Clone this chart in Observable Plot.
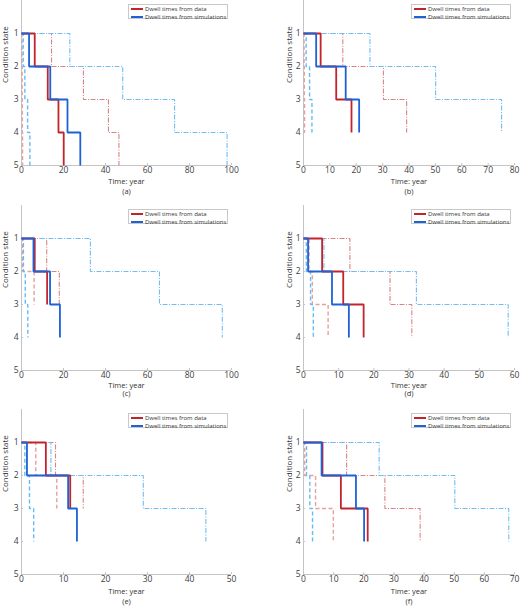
<!DOCTYPE html>
<html><head><meta charset="utf-8">
<script src="https://cdn.jsdelivr.net/npm/d3@7"></script>
<script src="https://cdn.jsdelivr.net/npm/@observablehq/plot@0.6"></script>
<style>
body{margin:0;background:#fff;font-family:"Open Sans",sans-serif;}
#fig{position:relative;width:520px;height:609px;overflow:hidden;}
.panel{position:absolute;}
.legend{position:absolute;background:#fff;border:1px solid #c8c8c8;width:100px;height:15px;font-size:6px;color:#333;box-sizing:border-box;}
.legend .row{position:absolute;left:0;height:8px;width:100%;}
.legend .sw{position:absolute;left:2px;width:12px;top:3px;height:0;border-top:2px solid;}
.legend .lb{position:absolute;left:16px;top:0;line-height:8px;white-space:nowrap;}
</style>
</head><body>
<div id="fig"></div>
<script>
// ---- data (cumulative years at which each transition to the next condition state occurs) ----
const panelLabels = ["(a)", "(b)", "(c)", "(d)", "(e)", "(f)"];
const xMax = [100, 80, 100, 60, 50, 70];
const xTicks = [
  [0, 20, 40, 60, 80, 100],
  [0, 10, 20, 30, 40, 50, 60, 70, 80],
  [0, 20, 40, 60, 80, 100],
  [0, 10, 20, 30, 40, 50, 60],
  [0, 10, 20, 30, 40, 50],
  [0, 10, 20, 30, 40, 50, 60, 70]
];
const stateTicks = [1, 2, 3, 4, 5];
const legendLabels = ["Dwell times from data", "Dwell times from simulations"];

// panel (a)
const a_dataMean = [6.3, 12.5, 17.6, 20.1];
const a_simMean  = [3.6, 13.7, 21.9, 28.0];
const a_dataLow  = [0.2, 0.3, 0.4, 0.5];
const a_dataHigh = [14.3, 29.5, 41.4, 46.4];
const a_simLow   = [0.8, 1.6, 2.9, 4.0];
const a_simHigh  = [23.0, 48.2, 72.9, 97.9];
// panel (b)
const b_dataMean = [6.5, 12.4, 18.2];
const b_simMean  = [4.8, 16.0, 21.1];
const b_dataLow  = [0.2, 0.3, 0.4];
const b_dataHigh = [14.9, 30.3, 39.1];
const b_simLow   = [1.0, 2.3, 3.2];
const b_simHigh  = [25.2, 50.1, 75.1];
// panel (c)
const c_dataMean = [6.3, 12.2];
const c_simMean  = [5.7, 13.6, 18.3];
const c_dataLow  = [0.5, 6.0];
const c_dataHigh = [12.0, 18.0];
const c_simLow   = [0.9, 1.8, 3.0];
const c_simHigh  = [32.8, 65.7, 95.6];
// panel (d)
const d_dataMean = [5.3, 11.3, 17.1];
const d_simMean  = [1.3, 8.1, 12.9];
const d_dataLow  = [1.6, 2.5, 7.0];
const d_dataHigh = [13.2, 24.6, 30.8];
const d_simLow   = [0.8, 2.0, 2.8];
const d_simHigh  = [5.8, 32.1, 58.2];
// panel (e)
const e_dataMean = [5.8, 11.6];
const e_simMean  = [1.3, 11.1, 13.2];
const e_dataLow  = [3.4, 8.4];
const e_dataHigh = [8.1, 14.7];
const e_simLow   = [0.8, 1.9, 2.9];
const e_simHigh  = [7.0, 29.0, 43.9];
// panel (f)
const f_dataMean = [6.3, 12.4, 21.3];
const f_simMean  = [6.0, 17.4, 20.1];
const f_dataLow  = [0.4, 4.0, 9.9];
const f_dataHigh = [14.3, 27.0, 38.7];
const f_simLow   = [1.0, 2.1, 3.0];
const f_simHigh  = [25.1, 50.2, 68.1];

const panelSeries = [
  {dataMean: a_dataMean, simMean: a_simMean, dataLow: a_dataLow, dataHigh: a_dataHigh, simLow: a_simLow, simHigh: a_simHigh},
  {dataMean: b_dataMean, simMean: b_simMean, dataLow: b_dataLow, dataHigh: b_dataHigh, simLow: b_simLow, simHigh: b_simHigh},
  {dataMean: c_dataMean, simMean: c_simMean, dataLow: c_dataLow, dataHigh: c_dataHigh, simLow: c_simLow, simHigh: c_simHigh},
  {dataMean: d_dataMean, simMean: d_simMean, dataLow: d_dataLow, dataHigh: d_dataHigh, simLow: d_simLow, simHigh: d_simHigh},
  {dataMean: e_dataMean, simMean: e_simMean, dataLow: e_dataLow, dataHigh: e_dataHigh, simLow: e_simLow, simHigh: e_simHigh},
  {dataMean: f_dataMean, simMean: f_simMean, dataLow: f_dataLow, dataHigh: f_dataHigh, simLow: f_simLow, simHigh: f_simHigh}
];

// ---- styles / layout ----
const seriesStyle = [
  {key: "dataLow",  stroke: "#e6a0a0", dash: "4,2.5", w: 1.4},
  {key: "dataHigh", stroke: "#d98585", dash: "5,1.5,1,1.5", w: 1.1},
  {key: "simLow",   stroke: "#66bbf5", dash: "4,2.5", w: 1.4},
  {key: "simHigh",  stroke: "#6fbdf2", dash: "5,1.5,1,1.5", w: 1.1},
  {key: "dataMean", stroke: "#c3242b", w: 1.8},
  {key: "simMean",  stroke: "#1f62d6", w: 1.8}
];
const RED = "#c3242b", BLUE = "#1f62d6";
const rows = [
  {top: 0,   h: 200, mt: 0, mb: 35, dyLab: 18.5, dyCap: 28},
  {top: 200, h: 200, mt: 5, mb: 30, dyLab: 17, dyCap: 25.5},
  {top: 400, h: 209, mt: 9, mb: 35, dyLab: 19, dyCap: 29}
];
const cols = [
  {left: 0,   ml: 21, mr: 29, dxY: -16},
  {left: 260, ml: 43, mr: 6,  dxY: -14.5}
];

const fig = document.getElementById("fig");

function stepPoints(times) {
  return [{x: 0, y: 1}, ...times.map((t, i) => ({x: t, y: i + 2}))];
}

panelSeries.forEach((ser, p) => {
  const r = rows[Math.floor(p / 2)], c = cols[p % 2];
  const W = 260;
  const marks = [
    Plot.ruleX([0], {y1: 0, y2: 5, stroke: "#c4c4c4", strokeWidth: 1}),
    Plot.ruleY([5], {x1: 0, x2: xMax[p], stroke: "#c4c4c4", strokeWidth: 1}),
    Plot.axisX({ticks: xTicks[p], tickSize: -2, tickPadding: 3, stroke: "#c4c4c4", label: null, fill: "#404040", fontSize: 8.5}),
    Plot.axisY({ticks: stateTicks, tickSize: -2, tickPadding: 5, stroke: "#c4c4c4", label: null, fill: "#404040", fontSize: 8.5, tickFormat: d => String(d)})
  ];
  for (const s of seriesStyle) {
    marks.push(Plot.line(stepPoints(ser[s.key]), {
      x: "x", y: "y", curve: "step-after",
      stroke: s.stroke, strokeWidth: s.w,
      strokeDasharray: s.dash || null,
      strokeLinejoin: "miter", strokeLinecap: "butt"
    }));
  }
  marks.push(Plot.text(["Time: year"], {frameAnchor: "bottom", dy: r.dyLab, fill: "#333", fontSize: 7.5}));
  marks.push(Plot.text([panelLabels[p]], {frameAnchor: "bottom", dy: r.dyCap, fill: "#333", fontSize: 7.5}));
  marks.push(Plot.text(["Condition state"], {frameAnchor: "left", dx: c.dxY, rotate: -90, fill: "#333", fontSize: 8}));

  const chart = Plot.plot({
    width: W, height: r.h,
    marginTop: r.mt, marginBottom: r.mb, marginLeft: c.ml, marginRight: c.mr,
    x: {domain: [0, xMax[p]]},
    y: {domain: [0, 5], reverse: true},
    style: {fontFamily: "'Open Sans', sans-serif", fontSize: "8px", background: "transparent", overflow: "visible"},
    marks
  });
  const div = document.createElement("div");
  div.className = "panel";
  div.style.left = c.left + "px";
  div.style.top = r.top + "px";
  div.appendChild(chart);

  // legend (top-right inside plot area)
  const leg = document.createElement("div");
  leg.className = "legend";
  const plotRight = W - c.mr;
  leg.style.left = (plotRight - 3 - 100) + "px";
  leg.style.top = (r.mt + 4) + "px";
  [[legendLabels[0], RED], [legendLabels[1], BLUE]].forEach(([t, col], i) => {
    const row = document.createElement("div");
    row.className = "row";
    row.style.top = (0 + i * 7.5) + "px";
    const sw = document.createElement("div");
    sw.className = "sw"; sw.style.borderTopColor = col;
    const lb = document.createElement("div");
    lb.className = "lb"; lb.textContent = t;
    row.appendChild(sw); row.appendChild(lb);
    leg.appendChild(row);
  });
  div.appendChild(leg);
  fig.appendChild(div);
});
</script>
</body></html>
